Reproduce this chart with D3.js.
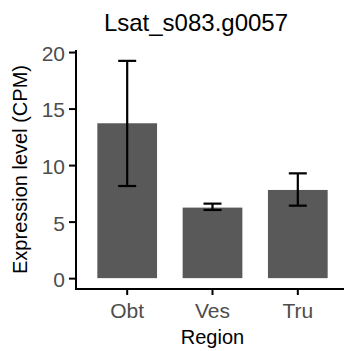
<!DOCTYPE html>
<html>
<head>
<meta charset="utf-8">
<script src="https://cdn.jsdelivr.net/npm/d3@7"></script>
<style>
  body { margin: 0; background: #fff; }
  svg { display: block; font-family: "Liberation Sans", Arial, sans-serif; }
</style>
</head>
<body>
<div id="chart"></div>
<script>
// Data
const regions = ['Obt', 'Ves', 'Tru'];
const meanCPM = [13.7, 6.24, 7.8];
const lowerCPM = [8.15, 6.03, 6.41];
const upperCPM = [19.22, 6.59, 9.27];
const yTicks = [0, 5, 10, 15, 20];
const chartTitle = 'Lsat_s083.g0057';

class BarChart {

  constructor(_config, _data) {
    this.config = {
      parentElement: _config.parentElement,
      containerWidth: _config.containerWidth || 344,
      containerHeight: _config.containerHeight || 351,
      margin: _config.margin || {top: 50, right: -5, bottom: 62, left: 76},
    }
    this.data = _data;
    this.initVis();
  }

  initVis() {
    let vis = this;

    vis.width = vis.config.containerWidth - vis.config.margin.left - vis.config.margin.right;
    vis.height = vis.config.containerHeight - vis.config.margin.top - vis.config.margin.bottom;

    // ggplot-like expansion: 0.05 of data range on y
    let yMax = d3.max(vis.data, d => d.upper);
    let pad = yMax * 0.05;

    vis.xScale = d3.scaleBand()
      .domain(regions)
      .range([0, vis.width])
      .paddingInner(0.3)
      .paddingOuter(0.25)
    vis.yScale = d3.scaleLinear()
      .domain([-pad, yMax + pad])
      .range([vis.height, 0])

    vis.xAxis = d3.axisBottom(vis.xScale).tickSize(6).tickPadding(5)
    vis.yAxis = d3.axisLeft(vis.yScale).tickValues(yTicks).tickSize(7).tickPadding(4)

    vis.svg = d3.select(vis.config.parentElement).append('svg')
      .attr('width', vis.config.containerWidth)
      .attr('height', vis.config.containerHeight)

    vis.visG = vis.svg.append('g')
      .attr('transform', `translate(${vis.config.margin.left},${vis.config.margin.top})`)

    vis.xAxisG = vis.svg.append('g')
      .attr('transform', `translate(${vis.config.margin.left},${vis.config.margin.top + vis.height})`)

    vis.yAxisG = vis.svg.append('g')
      .attr('transform', `translate(${vis.config.margin.left},${vis.config.margin.top})`)

    // Titles
    vis.svg.append('text')
      .attr('x', 196)
      .attr('y', 31)
      .attr('text-anchor', 'middle')
      .attr('font-size', 24)
      .attr('fill', '#000')
      .text(chartTitle)

    vis.svg.append('text')
      .attr('x', vis.config.margin.left + vis.xScale('Ves') + vis.xScale.bandwidth() / 2)
      .attr('y', 344)
      .attr('text-anchor', 'middle')
      .attr('font-size', 20)
      .attr('fill', '#000')
      .text('Region')

    vis.svg.append('text')
      .attr('transform', `translate(27,${vis.config.margin.top + vis.height / 2}) rotate(-90)`)
      .attr('text-anchor', 'middle')
      .attr('font-size', 20)
      .attr('fill', '#000')
      .text('Expression level (CPM)')
  }

  updateVis() {
    this.renderVis()
  }

  renderVis() {
    let vis = this;
    let x = vis.xScale, y = vis.yScale;
    let capW = 18;

    vis.visG.selectAll('rect.bar')
      .data(vis.data)
      .join('rect')
      .attr('class', 'bar')
      .attr('x', d => x(d.region))
      .attr('width', x.bandwidth())
      .attr('y', d => y(d.mean))
      .attr('height', d => y(0) - y(d.mean))
      .attr('fill', '#595959')

    let eb = vis.visG.selectAll('g.err')
      .data(vis.data)
      .join('g')
      .attr('class', 'err')
      .attr('transform', d => `translate(${x(d.region) + x.bandwidth() / 2},0)`)
      .attr('stroke', '#000')
      .attr('stroke-width', 2.2)
    eb.append('line').attr('y1', d => y(d.lower)).attr('y2', d => y(d.upper))
    eb.append('line').attr('x1', -capW / 2).attr('x2', capW / 2)
      .attr('y1', d => y(d.upper)).attr('y2', d => y(d.upper))
    eb.append('line').attr('x1', -capW / 2).attr('x2', capW / 2)
      .attr('y1', d => y(d.lower)).attr('y2', d => y(d.lower))

    vis.xAxisG.call(vis.xAxis)
    vis.yAxisG.call(vis.yAxis)

    // Axis styling
    for (let g of [vis.xAxisG, vis.yAxisG]) {
      g.select('.domain').attr('stroke', '#000').attr('stroke-width', 2)
      g.selectAll('.tick line').attr('stroke', '#000').attr('stroke-width', 2)
      g.selectAll('.tick text').attr('fill', '#4d4d4d').attr('font-size', 21)
        .attr('font-family', '"Liberation Sans", Arial, sans-serif')
    }
    vis.yAxisG.selectAll('.tick text').attr('dy', '0.4em')
    vis.xAxisG.selectAll('.tick text').attr('dy', '0.85em')
    vis.yAxisG.select('.domain').attr('d', `M0,${vis.height + 1}V0`)
    vis.xAxisG.select('.domain').attr('d', `M-1,0H${vis.width}`)
  }
}

const data = regions.map((r, i) => ({
  region: r, mean: meanCPM[i], lower: lowerCPM[i], upper: upperCPM[i]
}));

const chart = new BarChart({parentElement: '#chart'}, data);
chart.updateVis();
</script>
</body>
</html>
